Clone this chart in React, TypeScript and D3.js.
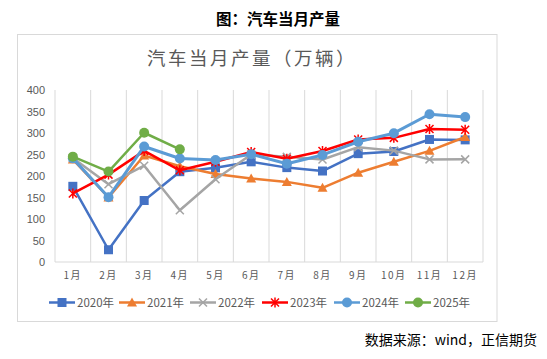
import React from "react";
import * as d3 from "d3";

const months = ["1月","2月","3月","4月","5月","6月","7月","8月","9月","10月","11月","12月"];
const yTicks = [0,50,100,150,200,250,300,350,400];
const s2020 = [176, 28.5, 143, 210, 219, 233, 219.5, 211.6, 252, 257, 285, 284];
const s2021 = [238.5, 150, 247.6, 222.8, 204.6, 194.3, 186.3, 172.5, 207.7, 233.1, 258.5, 290.7];
const s2022 = [242, 181, 224, 120.5, 192.6, 250, 244.5, 238.4, 267, 259, 238.6, 238.7];
const s2023 = [159.4, 203.2, 258.4, 213.3, 233.2, 256, 240, 258, 285, 288.7, 309.3, 307.7];
const s2024 = [241, 150.7, 268.7, 240.6, 237.2, 250.7, 228.6, 249, 279.6, 299.6, 343.7, 337];
const s2025 = [245, 210.3, 300.6, 262];
const seriesNames = ["2020年","2021年","2022年","2023年","2024年","2025年"];
const seriesData = [s2020, s2021, s2022, s2023, s2024, s2025];
const colors = ["#4472C4","#ED7D31","#A5A5A5","#FF0000","#5B9BD5","#70AD47"];
const markers = ["square","triangle","x","star","circle","circle"];

const FONT = "'Noto Sans CJK SC', 'Noto Sans', sans-serif";

function Marker({ type, x, y, color }: { type: string; x: number; y: number; color: string }) {
  if (type === "square") return <rect x={x - 4.5} y={y - 4.5} width={9} height={9} fill={color} />;
  if (type === "triangle") return <path d={`M${x},${y - 5}L${x + 5},${y + 4}L${x - 5},${y + 4}Z`} fill={color} />;
  if (type === "circle") return <circle cx={x} cy={y} r={5} fill={color} />;
  if (type === "x") return <path d={`M${x - 4},${y - 4}L${x + 4},${y + 4}M${x + 4},${y - 4}L${x - 4},${y + 4}`} stroke={color} strokeWidth={1.5} />;
  if (type === "star") return <path d={`M${x - 4},${y - 4}L${x + 4},${y + 4}M${x + 4},${y - 4}L${x - 4},${y + 4}M${x},${y - 5}L${x},${y + 5}`} stroke={color} strokeWidth={1.5} />;
  return null;
}

export default function App() {
  const W = 547, H = 359;
  const left = 55, right = 483, top = 90, bottom = 262;
  const x = d3.scaleBand<string>().domain(months).range([left, right]);
  const y = d3.scaleLinear().domain([0, 400]).range([bottom, top]);
  const line = d3.line<number>().x((_, i) => (x(months[i]) as number) + x.bandwidth() / 2).y(d => y(d));
  const bounds = months.map(m => x(m) as number).concat([right]);
  const legendX = [49, 119, 190, 262, 334, 405];
  const legendY = 302.5;
  return (
    <svg width={W} height={H} style={{ position: "absolute", left: 0, top: 0, background: "#fff" }} fontFamily={FONT}>
      <rect x={0} y={0} width={W} height={H} fill="#fff" />
      <text x={278} y={25} textAnchor="middle" fontSize={15.5} fontWeight="bold" fill="#000">图：汽车当月产量</text>
      <rect x={17.5} y={34.5} width={479.5} height={287} fill="#fff" stroke="#D9D9D9" strokeWidth={1} />
      <text x={252} y={65} textAnchor="middle" fontSize={18.5} letterSpacing={2.5} fill="#595959">汽车当月产量（万辆）</text>
      {bounds.map((b, i) => (
        <line key={i} x1={b} x2={b} y1={top} y2={bottom} stroke="#D9D9D9" strokeWidth={1} />
      ))}
      <line x1={left} x2={right} y1={bottom} y2={bottom} stroke="#D9D9D9" strokeWidth={1} />
      {yTicks.map(t => (
        <text key={t} x={45} y={y(t) + 4} textAnchor="end" fontSize={11} fill="#595959" fontFamily="'Liberation Sans', sans-serif">{t}</text>
      ))}
      {months.map(m => (
        <text key={m} x={(x(m) as number) + x.bandwidth() / 2} y={279} textAnchor="middle" fontSize={10} letterSpacing={1.5} fill="#595959">{m}</text>
      ))}
      {seriesData.map((s, si) => (
        <g key={si}>
          <path d={line(s) || ""} fill="none" stroke={colors[si]} strokeWidth={si === 4 ? 3 : 2.5} strokeLinejoin="round" />
          {s.map((v, i) => (
            <Marker key={i} type={markers[si]} x={(x(months[i]) as number) + x.bandwidth() / 2} y={y(v)} color={colors[si]} />
          ))}
        </g>
      ))}
      {seriesNames.map((n, i) => (
        <g key={n}>
          <line x1={legendX[i]} x2={legendX[i] + 26} y1={legendY} y2={legendY} stroke={colors[i]} strokeWidth={2.5} />
          <Marker type={markers[i]} x={legendX[i] + 13} y={legendY} color={colors[i]} />
          <text x={legendX[i] + 28} y={legendY + 4} fontSize={11.5} fill="#595959">{n}</text>
        </g>
      ))}
      <text x={537} y={345} textAnchor="end" fontSize={14} fill="#000">数据来源：wind，正信期货</text>
    </svg>
  );
}
